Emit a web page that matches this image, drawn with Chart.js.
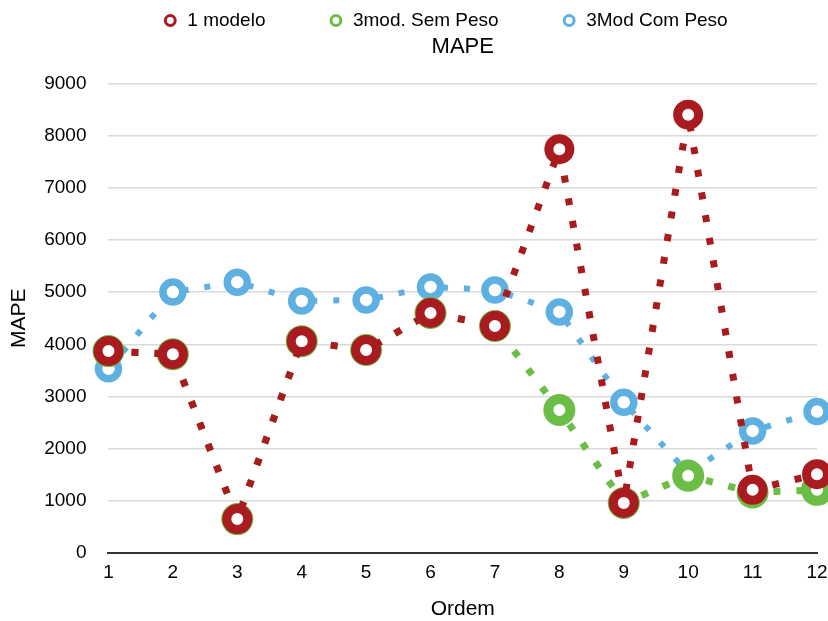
<!DOCTYPE html>
<html>
<head>
<meta charset="utf-8">
<script src="https://cdn.jsdelivr.net/npm/chart.js@4"></script>
<style>
  html, body { margin: 0; padding: 0; background: #fff; }
  #wrap { width: 828px; height: 621px; }
</style>
</head>
<body>
<div id="wrap"><canvas id="mape-chart"></canvas></div>
<script>
// data
const ordem = ['1', '2', '3', '4', '5', '6', '7', '8', '9', '10', '11', '12'];
const umModelo = [3870, 3810, 650, 4060, 3890, 4600, 4350, 7740, 960, 8400, 1210, 1510];
const semPeso = [3870, 3810, 650, 4060, 3890, 4600, 4350, 2740, 960, 1480, 1160, 1210];
const comPeso = [3530, 5000, 5190, 4830, 4850, 5100, 5040, 4620, 2890, 1530, 2340, 2710];
const yTicks = [0, 1000, 2000, 3000, 4000, 5000, 6000, 7000, 8000, 9000];

const font = 'Liberation Sans, Arial, Helvetica, sans-serif';

function series(label, data, color, radius, border, dashW, dash) {
  return {
    label: label,
    data: data,
    borderColor: color,
    backgroundColor: color,
    borderWidth: dashW,
    borderDash: dash,
    borderCapStyle: 'butt',
    tension: 0,
    pointRadius: radius,
    pointHoverRadius: radius,
    pointBorderWidth: border,
    pointBorderColor: color,
    pointBackgroundColor: '#fff',
    clip: false
  };
}

// the legend uses wide label padding for the gaps between items,
// so pull its box up (and a bit left) after layout
const legendShift = {
  id: 'legendShift',
  afterLayout(chart) {
    if (!chart.legend) return;
    chart.legend.top = -52;
    chart.legend.left -= 35;
  }
};

const ctx = document.getElementById('mape-chart').getContext('2d');
new Chart(ctx, {
  type: 'line',
  data: {
    labels: ordem,
    datasets: [
      series('1 modelo', umModelo, '#a91b1e', 10.5, 9, 7, [7, 16]),
      series('3mod. Sem Peso', semPeso, '#6bbd45', 11, 10, 7, [7, 16]),
      series('3Mod Com Peso', comPeso, '#5eb0e0', 10, 7.5, 6, [6, 16])
    ]
  },
  plugins: [legendShift],
  options: {
    responsive: true,
    maintainAspectRatio: false,
    animation: false,
    layout: { autoPadding: false, padding: { left: 7, right: 0, top: 0, bottom: 1 } },
    plugins: {
      legend: {
        position: 'top',
        weight: 3000,
        fullSize: false,
        maxHeight: 32,
        labels: {
          color: '#000',
          font: { family: font, size: 19 },
          usePointStyle: true,
          boxWidth: 15,
          boxHeight: 7,
          padding: 63,
          generateLabels: (chart) => chart.data.datasets.map((ds, i) => ({
            text: ds.label,
            fillStyle: '#fff',
            strokeStyle: ds.borderColor,
            fontColor: '#000',
            lineWidth: 3,
            pointStyle: 'circle',
            datasetIndex: i,
            hidden: !chart.isDatasetVisible(i)
          }))
        }
      },
      title: {
        display: true,
        text: 'MAPE',
        color: '#000',
        fullSize: false,
        font: { family: font, size: 22, weight: 'normal' },
        padding: { top: 2, bottom: 23 }
      },
      tooltip: { enabled: false }
    },
    scales: {
      x: {
        offset: false,
        afterFit: (scale) => { scale.paddingRight = 11; },
        grid: { display: false, drawTicks: false },
        border: { display: true, color: '#333', width: 2 },
        ticks: { color: '#000', font: { family: font, size: 19 }, padding: 8, maxRotation: 0 },
        title: { display: true, text: 'Ordem', color: '#000', font: { family: font, size: 21 }, padding: { top: 5, bottom: -2 } }
      },
      y: {
        min: 0,
        max: 9000,
        afterBuildTicks: (axis) => { axis.ticks = yTicks.map(v => ({ value: v })); },
        grid: { color: '#d9d9d9', lineWidth: 1.5, drawTicks: false },
        border: { display: false },
        ticks: { color: '#000', font: { family: font, size: 19 }, padding: 22, callback: (v) => String(v) },
        title: { display: true, text: 'MAPE', color: '#000', font: { family: font, size: 21 }, padding: { top: 0, bottom: -10 } }
      }
    }
  }
});
</script>
</body>
</html>
